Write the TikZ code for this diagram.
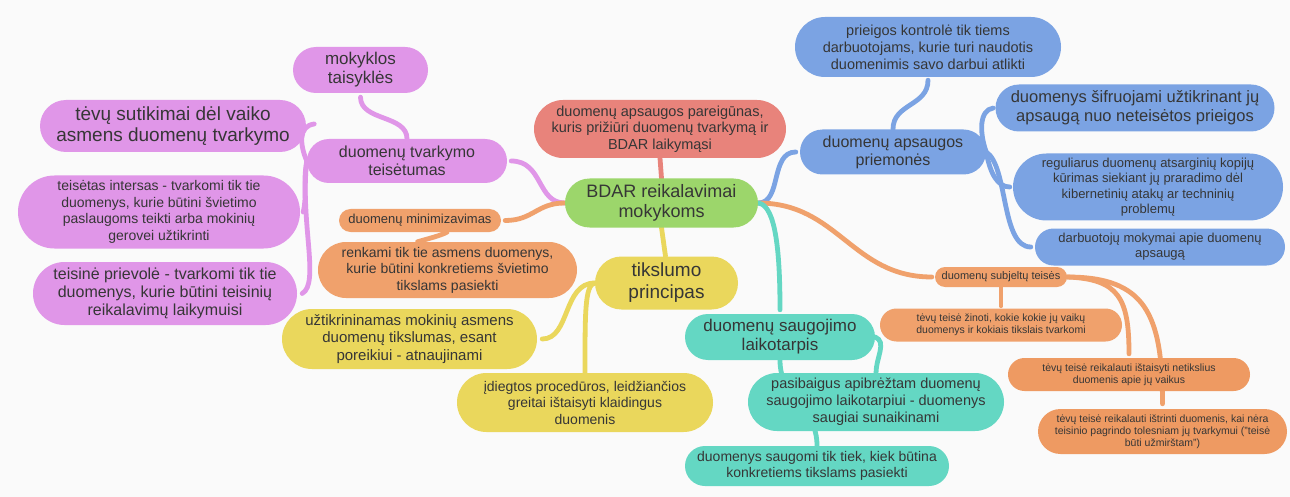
\documentclass[tikz,border=0pt]{standalone}
\usepackage{fontspec}
\setmainfont{Liberation Sans}
\usetikzlibrary{shapes.misc,backgrounds}
\definecolor{cbg}{HTML}{FAFAFA}
\definecolor{ctext}{HTML}{363636}
\definecolor{cpink}{HTML}{E096E8}
\definecolor{cred}{HTML}{E8837B}
\definecolor{cgreen}{HTML}{9CD66B}
\definecolor{corange}{HTML}{F0A16C}
\definecolor{corange2}{HTML}{EE9A62}
\definecolor{cyellow}{HTML}{EAD75C}
\definecolor{cteal}{HTML}{64D7C3}
\definecolor{cblue}{HTML}{7BA3E3}
\newcommand\myfs[2]{\fontsize{#1}{#2}\selectfont}
\tikzset{
  pill/.style={rounded rectangle, inner sep=0pt, align=center, text=ctext},
  conn/.style={line width=4.8pt, line cap=round},
  thinconn/.style={line width=3.5pt, line cap=round},
}
\begin{document}
\begin{tikzpicture}[x=1pt,y=-1pt]
\useasboundingbox (0,0) rectangle (1290,497);
% nodes
\node[pill, fill=cpink, minimum width=135pt, minimum height=46pt, font=\myfs{17}{19}] (mok) at (360.5,70) {mokyklos\\taisyklės};
\node[pill, fill=cpink, minimum width=266pt, minimum height=52pt, font=\myfs{19}{20.5}] (tevu) at (173,126) {tėvų sutikimai dėl vaiko\\asmens duomenų tvarkymo};
\node[pill, fill=cpink, minimum width=282pt, minimum height=73pt, font=\myfs{14}{16.5}] (teisetas) at (159,212) {teisėtas intersas - tvarkomi tik tie\\duomenys, kurie būtini švietimo\\paslaugoms teikti arba mokinių\\gerovei užtikrinti};
\node[pill, fill=cpink, minimum width=264pt, minimum height=63pt, font=\myfs{16}{18}] (teisine) at (165,293.5) {teisinė prievolė - tvarkomi tik tie\\duomenys, kurie būtini teisinių\\reikalavimų laikymuisi};
\node[pill, fill=cpink, minimum width=200pt, minimum height=44pt, font=\myfs{16}{18}] (teisetumas) at (407,161) {duomenų tvarkymo\\teisėtumas};
\node[pill, fill=corange, minimum width=162pt, minimum height=23pt, font=\myfs{13}{15}] (minim) at (420,220.5) {duomenų minimizavimas};
\node[pill, fill=corange, minimum width=259pt, minimum height=56pt, font=\myfs{14}{16.5}] (renkami) at (447.5,270) {renkami tik tie asmens duomenys,\\kurie būtini konkretiems švietimo\\tikslams pasiekti};
\node[pill, fill=cred, minimum width=252pt, minimum height=58pt, font=\myfs{14.5}{16.5}] (pareig) at (660,129) {duomenų apsaugos pareigūnas,\\kuris prižiūri duomenų tvarkymą ir\\BDAR laikymąsi};
\node[pill, fill=cgreen, minimum width=193pt, minimum height=49pt, font=\myfs{18}{20}] (bdar) at (661.5,203) {BDAR reikalavimai\\mokykoms};
\node[pill, fill=cyellow, minimum width=143pt, minimum height=53pt, font=\myfs{19}{22}] (tiksl) at (666.5,283) {tikslumo\\principas};
\node[pill, fill=cyellow, minimum width=255pt, minimum height=60pt, font=\myfs{15}{17.5}] (uztikr) at (409.5,339) {užtikrininamas mokinių asmens\\duomenų tikslumas, esant\\poreikiui - atnaujinami};
\node[pill, fill=cyellow, minimum width=256pt, minimum height=59pt, font=\myfs{14}{16.5}] (idiegt) at (585,402.5) {įdiegtos procedūros, leidžiančios\\greitai ištaisyti klaidingus\\duomenis};
\node[pill, fill=cteal, minimum width=190pt, minimum height=46pt, font=\myfs{17}{19}] (saug) at (780,337) {duomenų saugojimo\\laikotarpis};
\node[pill, fill=cteal, minimum width=256pt, minimum height=58pt, font=\myfs{14.5}{17}] (pasib) at (876,402) {pasibaigus apibrėžtam duomenų\\saugojimo laikotarpiui - duomenys\\saugiai sunaikinami};
\node[pill, fill=cteal, minimum width=264pt, minimum height=40pt, font=\myfs{14}{16}] (saugomi) at (817,466) {duomenys saugomi tik tiek, kiek būtina\\konkretiems tikslams pasiekti};
\node[pill, fill=corange, minimum width=132pt, minimum height=20pt, font=\myfs{11}{12}] (subj) at (1001,277) {duomenų subjeltų teisės};
\node[pill, fill=corange, minimum width=242pt, minimum height=33pt, font=\myfs{10.5}{12}] (zinoti) at (1001,325) {tėvų teisė žinoti, kokie kokie jų vaikų\\duomenys ir kokiais tikslais tvarkomi};
\node[pill, fill=corange2, minimum width=242pt, minimum height=33pt, font=\myfs{10.5}{12}] (istais) at (1129,374.5) {tėvų teisė reikalauti ištaisyti netikslius\\duomenis apie jų vaikus};
\node[pill, fill=corange2, minimum width=249pt, minimum height=45pt, font=\myfs{10.5}{12}] (istrin) at (1162.5,431.5) {tėvų teisė reikalauti ištrinti duomenis, kai nėra\\teisinio pagrindo tolesniam jų tvarkymui ("teisė\\būti užmirštam")};
\node[pill, fill=cblue, minimum width=266pt, minimum height=60pt, font=\myfs{14.5}{17}] (prieig) at (928,47) {prieigos kontrolė tik tiems\\darbuotojams, kurie turi naudotis\\duomenimis savo darbui atlikti};
\node[pill, fill=cblue, minimum width=186pt, minimum height=45pt, font=\myfs{16}{18}] (priem) at (893,152) {duomenų apsaugos\\priemonės};
\node[pill, fill=cblue, minimum width=279pt, minimum height=47pt, font=\myfs{16.5}{19}] (sifruo) at (1135,108) {duomenys šifruojami užtikrinant jų\\apsaugą nuo neteisėtos prieigos};
\node[pill, fill=cblue, minimum width=270pt, minimum height=67pt, font=\myfs{13}{15.5}] (regul) at (1148,187) {reguliarus duomenų atsarginių kopijų\\kūrimas siekiant jų praradimo dėl\\kibernetinių atakų ar techninių\\problemų};
\node[pill, fill=cblue, minimum width=250pt, minimum height=37pt, font=\myfs{13}{15}] (darbuot) at (1160,247) {darbuotojų mokymai apie duomenų\\apsaugą};
% connectors
\begin{pgfonlayer}{background}
\fill[cbg] (0,0) rectangle (1290,497);
% pink
\draw[conn, cpink] (bdar.west) .. controls +(-28,0) and +(32,0) .. ([xshift=4pt]teisetumas.east);
\draw[conn, cpink] (teisetumas.north) .. controls +(0,-24) and +(0,24) .. ([yshift=-4pt]mok.south);
\draw[conn, cpink] (teisetumas.west) .. controls +(-7,-16) and +(-16,2) .. ([xshift=8pt,yshift=2pt]tevu.east);
\draw[conn, cpink] (teisetumas.west) .. controls +(-4,22) and +(4,-16) .. ([xshift=3pt]teisetas.east);
\draw[conn, cpink] (teisetumas.west) .. controls +(-7,60) and +(18,-10) .. ([xshift=5pt]teisine.east);
% orange left
\draw[conn, corange] (bdar.west) .. controls +(-28,0) and +(28,0) .. ([xshift=4pt]minim.east);
\draw[conn, corange] ([xshift=27pt]minim.south) .. controls +(-8,4) and +(10,-3) .. ([xshift=-30pt]renkami.north);
% red
\draw[conn, cred] (bdar.north) -- (pareig.south);
% yellow
\draw[conn, cyellow] (bdar.south) -- ([xshift=-1pt]tiksl.north);
\draw[conn, cyellow] (tiksl.west) .. controls +(-32,0) and +(28,0) .. ([xshift=5pt]uztikr.east);
\draw[conn, cyellow] (tiksl.west) .. controls +(-10,2) and +(0,-60) .. (idiegt.north);
% blue
\draw[conn, cblue] (bdar.east) .. controls +(24,0) and +(-26,0) .. ([xshift=-4pt]priem.west);
\draw[conn, cblue] (priem.north) .. controls +(0,-26) and +(0,26) .. ([yshift=-3pt]prieig.south);
\draw[conn, cblue] (priem.east) .. controls +(-7,-20) and +(-14,2) .. ([xshift=-2pt]sifruo.west);
\draw[conn, cblue] (priem.east) .. controls +(4,22) and +(-12,0) .. ([xshift=-3pt]regul.west);
\draw[conn, cblue] (priem.east) .. controls +(22,14) and +(-30,0) .. ([xshift=-4pt]darbuot.west);
% orange right
\draw[conn, corange] (bdar.east) .. controls +(80,0) and +(-80,0) .. ([xshift=-3pt]subj.west);
\draw[thinconn, corange] (subj.south) -- ([yshift=2pt]zinoti.north);
\draw[conn, corange] (subj.east) .. controls +(52,2) and +(0,-55) .. ([yshift=4pt]istais.north);
\draw[conn, corange] (subj.east) .. controls +(78,0) and +(0,-90) .. ([yshift=5pt]istrin.north);
% teal
\draw[conn, cteal] (bdar.east) .. controls +(18,2) and +(0,-55) .. ([yshift=4pt]saug.north);
\draw[conn, cteal] (saug.south) .. controls +(0,40) and +(0,-40) .. (saugomi.north);
\draw[conn, cteal] (saug.east) .. controls +(12,5) and +(0,-15) .. (pasib.north);
\end{pgfonlayer}
\end{tikzpicture}
\end{document}
